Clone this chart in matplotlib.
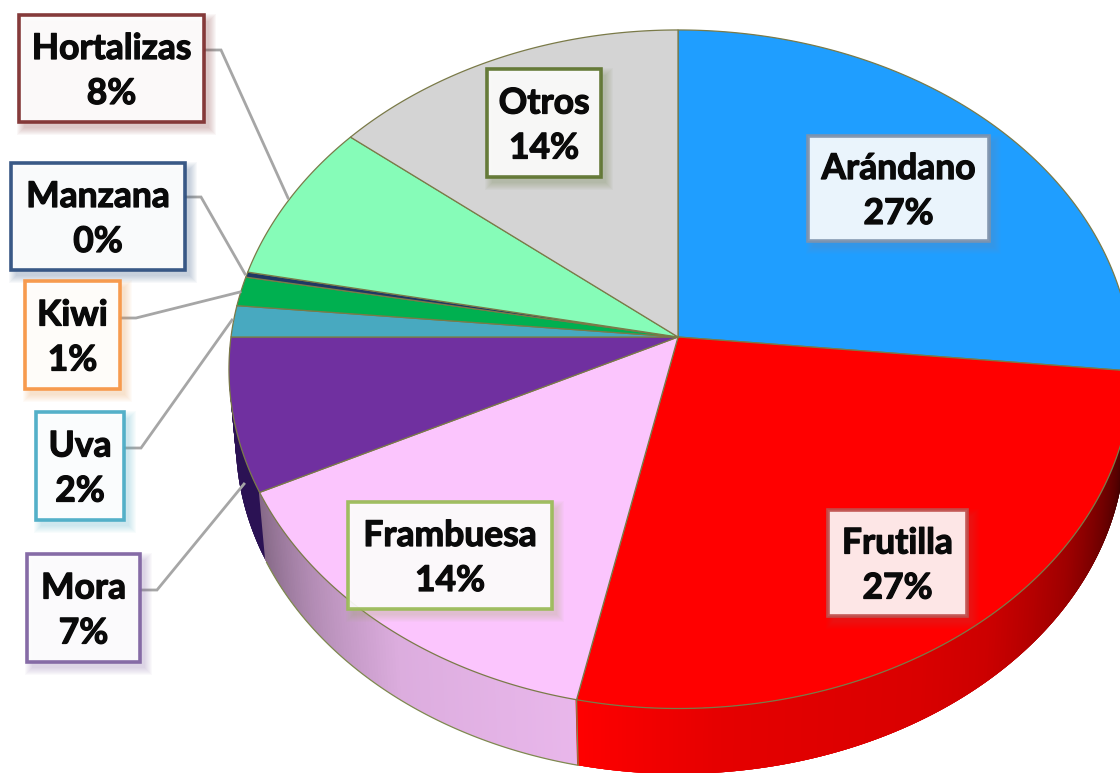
import numpy as np
import matplotlib
matplotlib.use('Agg')
import matplotlib.pyplot as plt
import matplotlib.patheffects as pe
from matplotlib.patches import Rectangle

# slices, clockwise from the top
names = ['Arándano', 'Frutilla', 'Frambuesa', 'Mora', 'Uva', 'Kiwi', 'Manzana', 'Hortalizas', 'Otros']
values = [26.6, 26.7, 14.4, 7.3, 1.5, 1.4, 0.25, 7.7, 14.15]
pct_labels = [27, 27, 14, 7, 2, 1, 0, 8, 14]
colors = ['#1f9eff', '#ff0000', '#fbc5fd', '#7030a0', '#48a9c0', '#00b050', '#1f3864', '#86fcb8', '#d4d4d4']

# label boxes: left, top, right, bottom in pixels
boxes = {
    'Arándano': (808, 136, 989, 241),
    'Frutilla': (828, 510, 967, 616),
    'Frambuesa': (348, 502, 552, 609),
    'Mora': (27, 554, 140, 662),
    'Uva': (36, 412, 124, 520),
    'Kiwi': (25, 281, 120, 389),
    'Manzana': (11, 163, 185, 270),
    'Hortalizas': (19, 15, 204, 122),
    'Otros': (487, 69, 601, 177),
}
box_edges = {
    'Arándano': '#7f93ad',
    'Frutilla': '#c0504d',
    'Frambuesa': '#9bbb59',
    'Mora': '#8064a2',
    'Uva': '#4bacc6',
    'Kiwi': '#f79646',
    'Manzana': '#2f5080',
    'Hortalizas': '#7f3030',
    'Otros': '#5f7530',
}
leaders = {
    'Mora': [(140, 590), (157, 590), (244, 484)],
    'Uva': [(124, 448), (141, 448), (232, 320)],
    'Kiwi': [(120, 318), (136, 318), (240, 292)],
    'Manzana': [(185, 197), (201, 197), (245, 274)],
    'Hortalizas': [(204, 50), (221, 50), (288, 198)],
}

# pie geometry, a circle seen in perspective
apex_x, apex_y = 678, 337
rad_left, rad_right = 447, 452
rad_y = 336.2
persp = 0.095
depth = 71
bottom_scale = 0.985

# shading of the rim along the angle
rim_red_ang = [96, 105, 115, 125, 140, 150, 175, 192]
rim_red = [0.2, 0.28, 0.45, 0.62, 0.8, 0.85, 0.9, 1.0]
rim_pink_ang = [192, 215, 230, 245]
rim_pink = [0.93, 0.88, 0.72, 0.52]


def project(theta, scale=1.0, drop=0.0):
    # theta in degrees, clockwise from the top of the pie
    t = np.radians(theta)
    u, v = np.sin(t), np.cos(t)
    den = 1 + persp * v
    rad_x = np.where(u > 0, rad_right, rad_left)
    return apex_x + scale * rad_x * u / den, apex_y + drop - scale * rad_y * v / den


def rim_color(theta):
    if theta < 192:
        return (np.interp(theta, rim_red_ang, rim_red), 0, 0)
    if theta < 243.8:
        f = np.interp(theta, rim_pink_ang, rim_pink)
        return (0.98 * f, 0.77 * f, 0.99 * f)
    return (0.17, 0.07, 0.33)


fig = plt.figure(figsize=(11.2, 7.73), dpi=100)
ax = fig.add_axes([0, 0, 1, 1])
ax.set_xlim(0, 1120)
ax.set_ylim(773, 0)
ax.axis('off')

edges = np.concatenate([[0], np.cumsum(values)]) / np.sum(values) * 360

# rim first, the top face goes over it. strips overlap so no gaps show
for a in np.arange(92, 268, 0.5):
    xa, ya = project(a)
    xb, yb = project(a + 2)
    xc, yc = project(a + 2, bottom_scale, depth)
    xd, yd = project(a, bottom_scale, depth)
    ax.fill([xa, xb, xc, xd], [ya, yb, yc, yd], color=rim_color(a), lw=0, zorder=1)
ax.plot(*project(np.arange(192, 244, 0.5), bottom_scale, depth), color='#7f8a50', lw=0.9, zorder=1.5)
x0, y0 = project(edges[2])
x1, y1 = project(edges[2], bottom_scale, depth)
ax.plot([x0, x1], [y0, y1], color='#7f8a50', lw=0.9, zorder=1.5)

# top face
for i, name in enumerate(names):
    th = np.linspace(edges[i], edges[i + 1], 120)
    xs, ys = project(th)
    ax.fill(np.r_[apex_x, xs], np.r_[apex_y, ys], facecolor=colors[i],
            edgecolor='#7a7a48', lw=0.9, zorder=2, joinstyle='round')

# leader lines
for name, pts in leaders.items():
    px, py = zip(*pts)
    ax.plot(px, py, color='#a6a6a6', lw=2, zorder=3, solid_joinstyle='miter')

# boxes with a soft shadow
for i, name in enumerate(names):
    l, t, r, b = boxes[name]
    for grow in range(7, -1, -1):
        ax.add_patch(Rectangle((l + 5 - grow, t + 6 - grow), r - l + 2 * grow, b - t + 2 * grow,
                               facecolor=box_edges[name], edgecolor='none', alpha=0.035, zorder=4))
    ax.add_patch(Rectangle((l, t), r - l, b - t, facecolor='white', edgecolor='none', alpha=0.9, zorder=5))
    ax.add_patch(Rectangle((l, t), r - l, b - t, facecolor='none', edgecolor=box_edges[name],
                           lw=2.6, alpha=0.95, zorder=6))
    label = ax.text((l + r) / 2, (t + b) / 2 + 3, f'{name}\n{pct_labels[i]}%', ha='center', va='center',
                    family='Lato', weight='bold', fontsize=25.5, linespacing=1.5, color='#0a0a0a', zorder=7)
    label.set_path_effects([pe.withStroke(linewidth=0.9, foreground='#0a0a0a')])

fig.savefig('out.png', dpi=100, facecolor='white')
